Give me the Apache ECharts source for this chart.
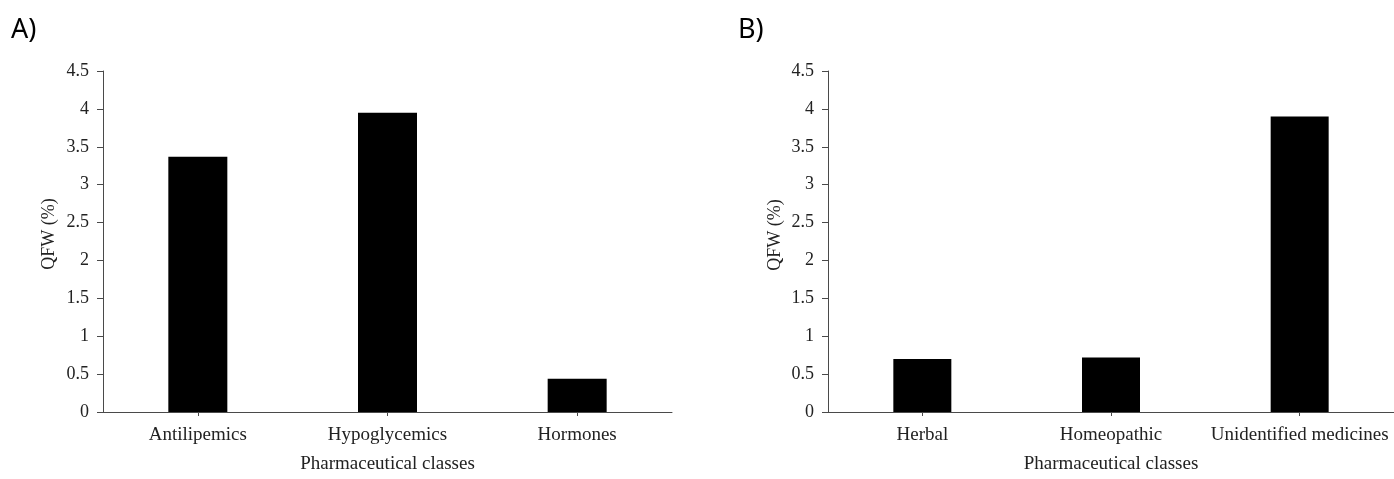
<!DOCTYPE html>
<html>
<head>
<meta charset="utf-8">
<script src="https://cdn.jsdelivr.net/npm/echarts@6/dist/echarts.min.js"></script>
<style>
html,body{margin:0;padding:0;background:#fff;}
#chart{width:1394px;height:479px;}
</style>
</head>
<body>
<div id="chart"></div>
<script>
// Data
var categoriesA = ['Antilipemics', 'Hypoglycemics', 'Hormones'];
var valuesA = [3.37, 3.95, 0.44];
var categoriesB = ['Herbal', 'Homeopathic', 'Unidentified medicines'];
var valuesB = [0.70, 0.72, 3.90];
var yTicks = [0, 0.5, 1, 1.5, 2, 2.5, 3, 3.5, 4, 4.5];
var yName = 'QFW (%)';
var xName = 'Pharmaceutical classes';
var panelLabels = ['A)', 'B)'];

var serif = '"Liberation Serif", "Times New Roman", serif';
var textColor = '#222';
var axisColor = '#4a4a4a';

function makeX(idx, cats) {
  return {
    type: 'category', gridIndex: idx, data: cats,
    axisLine: {show: true, lineStyle: {color: axisColor, width: 1}},
    axisTick: {show: true, alignWithLabel: true, length: 4, lineStyle: {color: axisColor}},
    axisLabel: {fontFamily: serif, fontSize: 19, color: textColor, margin: 14, interval: 0},
    name: xName, nameLocation: 'middle', nameGap: 43,
    nameTextStyle: {fontFamily: serif, fontSize: 19, color: textColor},
    splitLine: {show: false}
  };
}
function makeY(idx) {
  return {
    type: 'value', gridIndex: idx,
    min: yTicks[0], max: yTicks[yTicks.length - 1], interval: yTicks[1] - yTicks[0],
    axisLine: {show: true, lineStyle: {color: axisColor, width: 1}},
    axisTick: {show: true, length: 6, lineStyle: {color: axisColor}},
    axisLabel: {fontFamily: serif, fontSize: 18, color: textColor, margin: 14},
    splitLine: {show: false}
  };
}

var chart = echarts.init(document.getElementById('chart'), null, {renderer: 'canvas'});
chart.setOption({
  animation: false,
  backgroundColor: '#fff',
  grid: [
    {left: 103, top: 71, width: 569, height: 342},
    {left: 828, top: 71, width: 566, height: 341}
  ],
  xAxis: [makeX(0, categoriesA), makeX(1, categoriesB)],
  yAxis: [makeY(0), makeY(1)],
  graphic: [
    {type: 'text', left: 11, top: 17, style: {text: panelLabels[0], font: '27px "Noto Sans", sans-serif', fill: '#000'}},
    {type: 'text', left: 738, top: 17, style: {text: panelLabels[1], font: '27px "Noto Sans", sans-serif', fill: '#000'}},
    {type: 'text', x: 49, y: 234, rotation: Math.PI / 2,
     style: {text: yName, font: '18px ' + serif, fill: textColor, align: 'center', verticalAlign: 'middle'}},
    {type: 'text', x: 775, y: 235, rotation: Math.PI / 2,
     style: {text: yName, font: '18px ' + serif, fill: textColor, align: 'center', verticalAlign: 'middle'}}
  ],
  series: [
    {type: 'bar', xAxisIndex: 0, yAxisIndex: 0, data: valuesA, barWidth: 59,
     itemStyle: {color: '#000'}},
    {type: 'bar', xAxisIndex: 1, yAxisIndex: 1, data: valuesB, barWidth: 58,
     itemStyle: {color: '#000'}}
  ]
});
</script>
</body>
</html>
